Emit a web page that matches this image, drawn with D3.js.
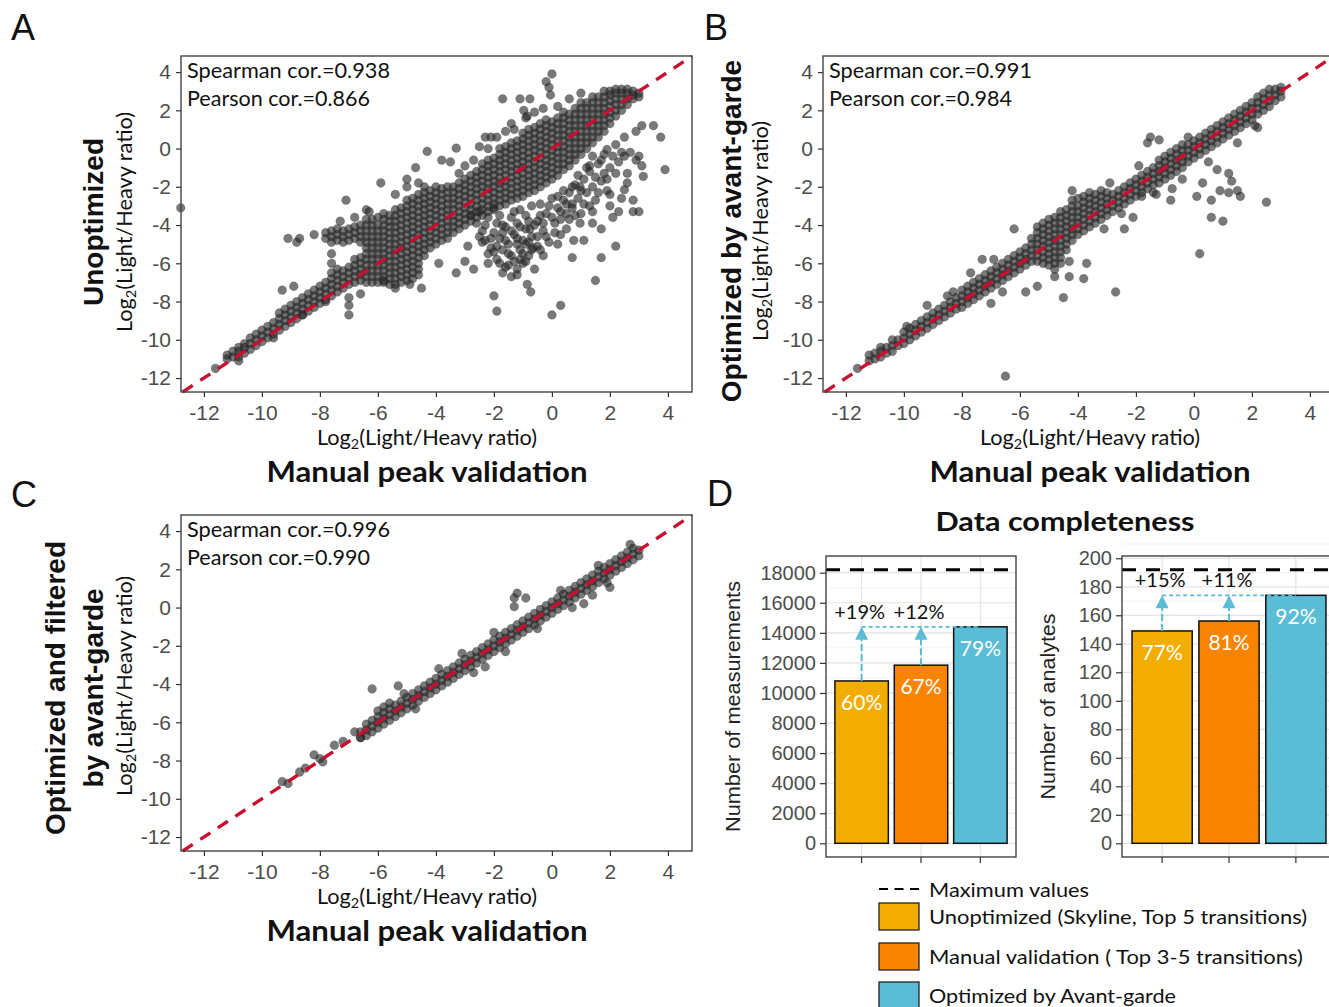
<!DOCTYPE html>
<html><head><meta charset="utf-8">
<script src="https://cdn.jsdelivr.net/npm/d3@7"></script>
<style>body{margin:0;background:#fff}svg{display:block}</style>
</head><body>
<svg id="c" width="1329" height="1007"></svg>
<script>
// ---------------- DATA ----------------
const xTicks = [-12,-10,-8,-6,-4,-2,0,2,4];
const yTicks = [-12,-10,-8,-6,-4,-2,0,2,4];
const corrA = ["Spearman cor.=0.938","Pearson cor.=0.866"];
const corrB = ["Spearman cor.=0.991","Pearson cor.=0.984"];
const corrC = ["Spearman cor.=0.996","Pearson cor.=0.990"];

// dense band of panel A: [x, [y values]]
const bandA = [
[-11.2,[-11.0,-10.8]],[-11.0,[-10.9,-10.6]],[-10.8,[-10.9,-10.6,-10.4]],[-10.6,[-10.7,-10.4,-10.2]],
[-10.4,[-10.5,-10.2,-9.9]],[-10.2,[-10.3,-10.0,-9.7]],[-10.0,[-10.1,-9.8,-9.5]],[-9.8,[-9.9,-9.6,-9.3]],
[-9.6,[-9.7,-9.4,-9.1]],[-9.4,[-9.5,-9.2,-8.9,-8.6]],[-9.2,[-9.3,-9.0,-8.7,-8.4]],[-9.0,[-9.1,-8.8,-8.5,-8.2]],
[-8.8,[-8.9,-8.6,-8.3,-8.0]],[-8.6,[-8.7,-8.4,-8.1,-7.8]],[-8.4,[-8.5,-8.2,-7.9,-7.6]],[-8.2,[-8.3,-8.0,-7.7,-7.4]],
[-8.0,[-8.1,-7.8,-7.5,-7.2]],[-7.8,[-7.9,-7.6,-7.3,-7.0,-4.7,-4.4]],
[-7.6,[-7.7,-7.4,-7.1,-6.8,-6.5,-6.0,-5.5,-4.9,-4.6,-4.3]],
[-7.4,[-7.5,-7.2,-6.9,-6.6,-6.3,-4.8,-4.5,-4.2]],
[-7.2,[-7.3,-7.0,-6.7,-6.4,-4.9,-4.6,-4.3]],
[-7.0,[-7.1,-6.8,-6.5,-6.2,-4.8,-4.5,-4.2]],
[-6.8,[-7.0,-6.7,-6.4,-6.1,-5.8,-4.7,-4.4,-4.1]],
[-6.6,[-6.9,-6.6,-6.3,-6.0,-5.7,-4.9,-4.6,-4.3,-4.0]],
[-6.4,[-7.0,-6.7,-6.4,-6.1,-5.8,-5.5,-5.2,-4.9,-4.6,-4.3,-4.0,-3.7]],
[-6.2,[-7.0,-6.7,-6.4,-6.1,-5.8,-5.5,-5.2,-4.9,-4.6,-4.3,-4.0,-3.7]],
[-6.0,[-7.0,-6.7,-6.4,-6.1,-5.8,-5.5,-5.2,-4.9,-4.6,-4.3,-4.0,-3.6]],
[-5.8,[-7.0,-6.7,-6.4,-6.1,-5.8,-5.5,-5.2,-4.9,-4.6,-4.3,-4.0,-3.7,-3.4]],
[-5.6,[-7.1,-6.8,-6.5,-6.2,-5.9,-5.6,-5.3,-5.0,-4.7,-4.4,-4.1,-3.8,-3.5]],
[-5.4,[-7.1,-6.8,-6.5,-6.2,-5.9,-5.6,-5.3,-5.0,-4.7,-4.4,-4.1,-3.8,-3.5,-3.2]],
[-5.2,[-7.0,-6.7,-6.4,-6.1,-5.8,-5.5,-5.2,-4.9,-4.6,-4.3,-4.0,-3.7,-3.4,-3.1]],
[-5.0,[-6.9,-6.6,-6.3,-6.0,-5.7,-5.4,-5.1,-4.8,-4.5,-4.2,-3.9,-3.6,-3.3,-3.0,-2.7]],
[-4.8,[-6.8,-6.5,-6.2,-5.9,-5.6,-5.3,-5.0,-4.7,-4.4,-4.1,-3.8,-3.5,-3.2,-2.9,-2.6]],
[-4.6,[-6.6,-6.3,-6.0,-5.7,-5.4,-5.1,-4.8,-4.5,-4.2,-3.9,-3.6,-3.3,-3.0,-2.7,-2.4]],
[-4.4,[-5.6,-5.3,-5.0,-4.7,-4.4,-4.1,-3.8,-3.5,-3.2,-2.9,-2.6,-2.3]],
[-4.2,[-5.2,-4.9,-4.6,-4.3,-4.0,-3.7,-3.4,-3.1,-2.8,-2.5,-2.2]],
[-4.0,[-5.0,-4.7,-4.4,-4.1,-3.8,-3.5,-3.2,-2.9,-2.6,-2.3,-2.0]],
[-3.8,[-4.8,-4.5,-4.2,-3.9,-3.6,-3.3,-3.0,-2.7,-2.4,-2.1]],
[-3.6,[-4.7,-4.4,-4.1,-3.8,-3.5,-3.2,-2.9,-2.6,-2.3,-2.0]],
[-3.4,[-4.4,-4.1,-3.8,-3.5,-3.2,-2.9,-2.6,-2.3,-2.0]],
[-3.2,[-4.2,-3.9,-3.6,-3.3,-3.0,-2.7,-2.4,-2.1,-1.8]],
[-3.0,[-4.0,-3.7,-3.4,-3.1,-2.8,-2.5,-2.2,-1.9,-1.6]],
[-2.8,[-3.8,-3.5,-3.2,-2.9,-2.6,-2.3,-2.0,-1.7,-1.4]],
[-2.6,[-3.6,-3.3,-3.0,-2.7,-2.4,-2.1,-1.8,-1.5,-1.2]],
[-2.4,[-3.5,-3.2,-2.9,-2.6,-2.3,-2.0,-1.7,-1.4,-1.1,-0.8]],
[-2.2,[-3.3,-3.0,-2.7,-2.4,-2.1,-1.8,-1.5,-1.2,-0.9,-0.6]],
[-2.0,[-3.2,-2.9,-2.6,-2.3,-2.0,-1.7,-1.4,-1.1,-0.8,-0.5]],
[-1.8,[-3.0,-2.7,-2.4,-2.1,-1.8,-1.5,-1.2,-0.9,-0.6,-0.3,0.0]],
[-1.6,[-2.9,-2.6,-2.3,-2.0,-1.7,-1.4,-1.1,-0.8,-0.5,-0.2,0.1]],
[-1.4,[-2.7,-2.4,-2.1,-1.8,-1.5,-1.2,-0.9,-0.6,-0.3,0.0,0.3]],
[-1.2,[-2.6,-2.3,-2.0,-1.7,-1.4,-1.1,-0.8,-0.5,-0.2,0.1,0.4]],
[-1.0,[-2.5,-2.2,-1.9,-1.6,-1.3,-1.0,-0.7,-0.4,-0.1,0.2,0.5,0.8]],
[-0.8,[-2.3,-2.0,-1.7,-1.4,-1.1,-0.8,-0.5,-0.2,0.1,0.4,0.7,1.0]],
[-0.6,[-2.2,-1.9,-1.6,-1.3,-1.0,-0.7,-0.4,-0.1,0.2,0.5,0.8,1.1]],
[-0.4,[-2.0,-1.7,-1.4,-1.1,-0.8,-0.5,-0.2,0.1,0.4,0.7,1.0,1.3]],
[-0.2,[-1.8,-1.5,-1.2,-0.9,-0.6,-0.3,0.0,0.3,0.6,0.9,1.2,1.5]],
[0.0,[-1.6,-1.3,-1.0,-0.7,-0.4,-0.1,0.2,0.5,0.8,1.1,1.4]],
[0.2,[-1.4,-1.1,-0.8,-0.5,-0.2,0.1,0.4,0.7,1.0,1.3,1.6]],
[0.4,[-1.1,-0.8,-0.5,-0.2,0.1,0.4,0.7,1.0,1.3,1.6,1.9]],
[0.6,[-0.9,-0.6,-0.3,0.0,0.3,0.6,0.9,1.2,1.5,1.8]],
[0.8,[-0.6,-0.3,0.0,0.3,0.6,0.9,1.2,1.5,1.8,2.1]],
[1.0,[-0.3,0.0,0.3,0.6,0.9,1.2,1.5,1.8,2.1,2.4]],
[1.2,[0.0,0.3,0.6,0.9,1.2,1.5,1.8,2.1,2.4]],
[1.4,[0.3,0.6,0.9,1.2,1.5,1.8,2.1,2.4,2.7]],
[1.6,[0.6,0.9,1.2,1.5,1.8,2.1,2.4,2.7]],
[1.8,[0.9,1.2,1.5,1.8,2.1,2.4,2.7,3.0]],
[2.0,[1.3,1.6,1.9,2.2,2.5,2.8,3.0]],
[2.2,[1.7,2.0,2.3,2.6,2.9,3.1]],
[2.4,[2.0,2.3,2.6,2.9,3.1]],
[2.6,[2.3,2.6,2.9,3.1]],
[2.8,[2.6,2.8,3.0]],
[3.0,[2.7,2.9]]
];
// scattered points of panel A: [x, y]
const scatterA = [
[-12.8,-3.1],[0.0,3.9],[-0.2,3.5],[-0.1,3.2],[-0.05,2.8],[-1.7,2.6],[-1.1,2.6],[-0.76,2.6],[-0.97,2.0],[-0.85,1.7],
[-2.3,0.6],[-2.1,0.6],[-1.3,1.0],[-4.3,-0.15],[-3.3,0.02],[-3.8,-0.6],[-3.5,-0.7],[-5.9,-1.8],[-4.7,-1.0],[-5.0,-1.6],
[-7.1,-2.7],[-6.4,-3.2],[-9.1,-4.7],[-8.7,-4.7],[-8.8,-4.9],[-9.3,-7.4],[-8.9,-7.2],[-7.0,-8.2],[-7.0,-8.7],
[3.1,1.2],[3.5,1.2],[3.75,0.6],[3.9,-1.1],[3.15,-1.45],[2.9,-0.6],[2.6,-1.3],[2.5,-2.15],[2.8,-3.3],[3.0,-3.3],
[2.2,-5.1],[1.7,-5.7],[1.5,-6.9],[0.7,-5.7],[0.3,-8.2],[0.0,-8.7],[-1.9,-8.5],[-2.0,-7.7],[-3.3,-6.5],[-3.9,-6.0],
[-2.7,-6.3],[-0.73,-7.5],[-0.85,-7.1],[2.5,-0.4],[3.1,-0.9],[2.1,-0.4],[2.0,-3.0],[2.3,-3.3],[1.4,-3.3],[1.4,-3.9],
[1.7,-4.2],[0.97,-3.9],[0.6,-3.7],[0.3,-3.7],[0.5,-4.2],[-0.76,-4.2],[-0.65,-5.2],[-1.2,-5.0],[-0.9,-5.9],[-1.5,-6.1],
[-1.8,-6.0],[-2.4,-4.9],[-2.0,-5.4],[-1.4,-6.7],[-1.2,-6.3],[0.75,-4.8],[1.1,-4.8],[0.2,-2.5],[1.9,-0.05],[1.3,-0.9],
[0.97,-2.0],[0.7,-2.9],[1.8,-1.3],[1.4,-0.4],
[-2.6,-3.9],[-2.4,-4.3],[-2.3,-4.8],[-2.2,-3.6],[-2.1,-5.2],[-2.0,-4.4],[-1.9,-5.8],[-1.9,-3.9],[-1.8,-4.7],[-1.7,-5.3],
[-1.6,-4.1],[-1.6,-6.2],[-1.5,-5.0],[-1.4,-3.6],[-1.4,-5.6],[-1.3,-4.5],[-1.2,-6.6],[-1.2,-3.9],[-1.1,-5.3],[-1.0,-4.8],
[-1.0,-6.0],[-0.9,-3.5],[-0.9,-4.2],[-0.8,-5.6],[-0.7,-3.0],[-0.7,-4.6],[-0.6,-6.3],[-0.5,-3.8],[-0.5,-5.1],[-0.4,-2.9],
[-0.3,-4.3],[-0.3,-5.6],[-0.2,-3.4],[-0.1,-4.9],[0.0,-2.6],[0.1,-3.9],[0.2,-3.1],[0.3,-4.5],[0.4,-2.7],[0.5,-3.4],
[0.6,-2.3],[0.7,-3.1],[0.8,-1.9],[0.9,-2.6],[1.0,-3.4],[1.1,-1.6],[1.2,-2.3],[1.3,-1.2],[1.4,-2.0],[1.5,-2.7],
[1.6,-0.8],[1.7,-1.7],[1.8,-0.3],[1.9,-2.2],[2.0,-1.0],[2.1,-3.6],[2.2,0.2],[2.3,-0.7],[2.4,-2.6],[2.5,0.6],
[2.6,-1.8],[2.7,-0.2],[2.8,-2.7],[2.9,0.9],[3.0,-0.4],[-2.5,-4.6],[-2.2,-5.5],[-1.7,-4.4],[-1.3,-5.9],[-0.8,-4.9],
[-1.1,-3.2],[-0.4,-3.5],[-2.8,-3.5],[-3.0,-5.9],[-2.9,-5.1],
[-2.5,-3.3],[-2.3,-4.0],[-2.1,-4.7],[-2.0,-3.1],[-1.8,-3.5],[-1.7,-4.0],[-1.6,-4.8],[-1.5,-5.5],[-1.4,-4.3],[-1.3,-3.3],
[-1.2,-4.7],[-1.1,-4.1],[-1.0,-5.5],[-0.9,-5.0],[-0.8,-3.8],[-0.7,-5.3],[-0.6,-4.0],[-0.5,-4.6],[-0.4,-5.3],[-0.3,-3.9],
[-0.2,-4.6],[-0.1,-3.0],[0.0,-3.6],[0.1,-4.4],[0.2,-5.0],[0.3,-3.3],[0.4,-2.2],[0.5,-2.9],[0.7,-2.0],[0.8,-3.5],
[0.9,-1.4],[1.0,-2.2],[1.1,-2.9],[1.2,-1.0],[1.3,-3.0],[1.5,-1.5],[1.6,-2.3],[1.7,-0.6],[1.9,-1.6],[2.0,-2.4],
[2.2,-1.3],[2.4,-0.2],[-1.9,-5.1],[-2.2,-6.0],[-1.7,-6.5],[-1.1,-5.8],
[-5.4,-2.4],[-5.0,-2.0],[-4.6,-1.8],[-4.4,-2.0],[-3.2,-1.3],[-3.0,-0.9],[-2.7,-0.6],[-2.5,0.1],[-2.2,0.0],[-1.9,0.6],
[-1.6,0.9],[-1.4,1.3],[-0.9,1.6],[-0.6,1.9],[-0.3,2.1],[0.2,2.2],[0.6,2.6],[1.0,2.9],[-6.8,-3.6],[-6.3,-3.3],
[-7.3,-3.8],[-8.2,-4.5],[-5.8,-6.9],[-5.4,-7.3],[-4.9,-7.1],[-4.5,-7.3],[-6.6,-7.6],[-7.0,-7.8],[-8.6,-8.7],[-7.8,-8.0],
[-9.6,-9.9],[-10.8,-11.1],[-11.6,-11.5]
];

// dense band of panel B
const bandB = [
[-11.2,[-11.1,-10.8]],[-11.0,[-11.0,-10.7]],[-10.8,[-10.9,-10.6,-10.4]],[-10.6,[-10.7,-10.4]],
[-10.4,[-10.6,-10.3,-10.0]],[-10.2,[-10.3,-10.0]],[-10.0,[-10.2,-9.9,-9.6]],[-9.8,[-10.0,-9.7,-9.4]],
[-9.6,[-9.8,-9.5,-9.2]],[-9.4,[-9.6,-9.3,-9.0]],[-9.2,[-9.4,-9.1,-8.8]],[-9.0,[-9.2,-8.9,-8.6]],
[-8.8,[-9.0,-8.7,-8.4]],[-8.6,[-8.8,-8.5,-8.2]],[-8.4,[-8.6,-8.3,-8.0]],[-8.2,[-8.4,-8.1,-7.8]],
[-8.0,[-8.3,-8.0,-7.7,-7.4]],[-7.8,[-8.1,-7.8,-7.5,-7.2]],[-7.6,[-7.9,-7.6,-7.3,-7.0]],[-7.4,[-7.7,-7.4,-7.1,-6.8]],
[-7.2,[-7.5,-7.2,-6.9,-6.6]],[-7.0,[-7.3,-7.0,-6.7,-6.4]],[-6.8,[-7.1,-6.8,-6.5,-6.2]],[-6.6,[-6.9,-6.6,-6.3,-6.0]],
[-6.4,[-6.7,-6.4,-6.1,-5.8]],[-6.2,[-6.5,-6.2,-5.9,-5.6]],[-6.0,[-6.3,-6.0,-5.7,-5.4]],[-5.8,[-6.1,-5.8,-5.5,-5.2]],
[-5.6,[-5.9,-5.6,-5.3,-5.0,-4.7]],
[-5.4,[-5.9,-5.6,-5.3,-5.0,-4.7,-4.4,-4.1]],
[-5.2,[-6.0,-5.7,-5.4,-5.1,-4.8,-4.5,-4.2,-3.9]],
[-5.0,[-6.1,-5.8,-5.5,-5.2,-4.9,-4.6,-4.3,-4.0,-3.7]],
[-4.8,[-6.3,-6.0,-5.7,-5.4,-5.1,-4.8,-4.5,-4.2,-3.9,-3.6]],
[-4.6,[-6.0,-5.7,-5.4,-5.1,-4.8,-4.5,-4.2,-3.9,-3.6,-3.3]],
[-4.4,[-5.3,-5.0,-4.7,-4.4,-4.1,-3.8,-3.5,-3.2]],
[-4.2,[-4.8,-4.5,-4.2,-3.9,-3.6,-3.3,-3.0,-2.7]],
[-4.0,[-4.5,-4.2,-3.9,-3.6,-3.3,-3.0,-2.6]],
[-3.8,[-4.3,-4.0,-3.7,-3.4,-3.1,-2.8,-2.5]],
[-3.6,[-4.1,-3.8,-3.5,-3.2,-2.9,-2.6,-2.3]],
[-3.4,[-3.9,-3.6,-3.3,-3.0,-2.7,-2.4]],
[-3.2,[-3.7,-3.4,-3.1,-2.8,-2.5,-2.2]],
[-3.0,[-3.5,-3.2,-2.9,-2.6,-2.3]],
[-2.8,[-3.3,-3.0,-2.7,-2.4]],[-2.6,[-3.1,-2.8,-2.5,-2.2]],[-2.4,[-2.9,-2.6,-2.3,-2.0]],[-2.2,[-2.7,-2.4,-2.1,-1.8]],
[-2.0,[-2.5,-2.2,-1.9,-1.6]],[-1.8,[-2.3,-2.0,-1.7,-1.4]],[-1.6,[-2.1,-1.8,-1.5,-1.2]],[-1.4,[-1.9,-1.6,-1.3,-1.0]],
[-1.2,[-1.8,-1.5,-1.2,-0.9,-0.6]],[-1.0,[-1.6,-1.3,-1.0,-0.7,-0.4]],[-0.8,[-1.4,-1.1,-0.8,-0.5,-0.2]],
[-0.6,[-1.2,-0.9,-0.6,-0.3,0.0]],[-0.4,[-1.0,-0.7,-0.4,-0.1,0.2]],[-0.2,[-0.7,-0.4,-0.1,0.2]],
[0.0,[-0.5,-0.2,0.1,0.4]],[0.2,[-0.3,0.0,0.3,0.6]],[0.4,[-0.1,0.2,0.5,0.8]],[0.6,[0.1,0.4,0.7,1.0]],
[0.8,[0.3,0.6,0.9,1.2]],[1.0,[0.5,0.8,1.1,1.4]],[1.2,[0.7,1.0,1.3,1.6]],[1.4,[0.9,1.2,1.5,1.8]],
[1.6,[1.1,1.4,1.7,2.0]],[1.8,[1.3,1.6,1.9,2.2]],[2.0,[1.5,1.8,2.1,2.4]],[2.2,[1.8,2.1,2.4,2.7]],
[2.4,[2.0,2.3,2.6,2.9]],[2.6,[2.2,2.5,2.8,3.1]],[2.8,[2.5,2.8,3.1]],[3.0,[2.7,3.0,3.2]]
];
const scatterB = [
[-6.5,-11.9],[-6.2,-4.2],[-7.3,-5.8],[-8.3,-7.5],[-9.2,-8.2],[-7.0,-8.1],[-6.6,-7.5],[-5.8,-7.5],[-5.4,-7.2],
[-4.5,-7.8],[-4.8,-6.7],[-4.3,-6.7],[-3.8,-6.8],[-4.3,-5.9],[-3.7,-6.0],[-2.7,-7.5],[-2.4,-4.2],[-2.1,-3.6],
[-4.2,-2.2],[0.2,-5.5],[0.6,-3.6],[1.0,-3.8],[0.1,-2.5],[0.6,-2.7],[0.9,-2.2],[1.2,-2.3],[1.6,-2.5],[1.5,-2.2],
[0.3,-1.8],[0.8,-1.1],[1.2,-1.3],[1.3,-1.7],[2.5,-2.8],[-0.8,-2.7],[-0.75,-2.1],[-1.5,0.6],[-1.2,0.45],[-1.6,0.3],
[2.1,1.2],[2.2,1.1],[1.5,0.3],[-1.4,-2.3],[-1.8,-2.5],[-11.6,-11.5],[-9.9,-9.3],[-8.5,-7.7],[-7.7,-6.5],[-6.9,-5.8],
[-3.1,-4.2],[-2.5,-3.4],[-1.3,-2.4],[-0.4,-1.6],[0.5,-0.7],[-0.2,0.6],[-2.9,-1.8],[-1.9,-0.9]
];

// dense band of panel C
const bandC = [
[-6.6,[-6.8,-6.5]],[-6.4,[-6.7,-6.4,-6.1]],[-6.2,[-6.5,-6.2,-5.9]],[-6.0,[-6.3,-6.0,-5.7,-5.4]],
[-5.8,[-6.1,-5.8,-5.5,-5.2]],[-5.6,[-5.9,-5.6,-5.3,-5.0]],[-5.4,[-5.7,-5.4,-5.1]],[-5.2,[-5.5,-5.2,-4.9]],
[-5.0,[-5.3,-5.0,-4.7]],[-4.8,[-5.1,-4.8,-4.5]],[-4.6,[-4.9,-4.6,-4.3]],[-4.4,[-4.7,-4.4,-4.1]],
[-4.2,[-4.5,-4.2,-3.9]],[-4.0,[-4.3,-4.0,-3.7]],[-3.8,[-4.1,-3.8,-3.5]],[-3.6,[-3.9,-3.6,-3.3]],
[-3.4,[-3.7,-3.4,-3.1]],[-3.2,[-3.5,-3.2,-2.9]],[-3.0,[-3.3,-3.0,-2.7]],[-2.8,[-3.1,-2.8,-2.5]],
[-2.6,[-2.9,-2.6,-2.3]],[-2.4,[-2.7,-2.4,-2.1]],[-2.2,[-2.5,-2.2,-1.9]],[-2.0,[-2.3,-2.0,-1.7]],
[-1.8,[-2.1,-1.8,-1.5]],[-1.6,[-1.9,-1.6,-1.3]],[-1.4,[-1.7,-1.4,-1.1]],[-1.2,[-1.5,-1.2,-0.9]],
[-1.0,[-1.3,-1.0,-0.7]],[-0.8,[-1.1,-0.8,-0.5]],[-0.6,[-0.9,-0.6,-0.3]],[-0.4,[-0.7,-0.4,-0.1]],
[-0.2,[-0.5,-0.2,0.1]],[0.0,[-0.3,0.0,0.3]],[0.2,[-0.1,0.2,0.5]],[0.4,[0.1,0.4,0.7]],
[0.6,[0.3,0.6,0.9]],[0.8,[0.5,0.8,1.1]],[1.0,[0.7,1.0,1.3]],[1.2,[0.9,1.2,1.5]],
[1.4,[1.1,1.4,1.7]],[1.6,[1.3,1.6,1.9]],[1.8,[1.5,1.8,2.1]],[2.0,[1.7,2.0,2.3]],
[2.2,[1.9,2.2,2.5]],[2.4,[2.1,2.4,2.7]],[2.6,[2.3,2.6,2.9]],[2.8,[2.5,2.8,3.1]],[3.0,[2.7,3.0]]
];
const scatterC = [
[-6.2,-4.25],[-9.3,-9.1],[-9.1,-9.2],[-8.7,-8.6],[-8.5,-8.4],[-8.2,-7.7],[-7.9,-8.07],[-8.0,-7.9],[-7.5,-7.2],
[-7.2,-7.0],[-6.6,-6.8],[-6.8,-6.5],[-1.3,0.5],[-1.2,0.75],[-0.9,0.5],[-1.3,0.05],[-2.3,-3.1],[1.1,0.2],[1.4,0.65],
[2.0,1.06],[-5.3,-4.1],[-5.1,-4.5],[-3.9,-3.2],[-3.1,-2.4],[-2.0,-1.3],[-0.5,-1.1],[0.7,0.0],[1.9,1.3],[2.7,3.3],
[-4.7,-5.3],[-2.7,-3.4],[-1.6,-2.3],[0.3,0.9],[1.6,2.2]
];

// Panel D
const categories = ["Unoptimized (Skyline, Top 5 transitions)","Manual validation ( Top 3-5 transitions)","Optimized by Avant-garde"];
const barColors = ["#F2AD00","#F98400","#5BBCD6"];
const measurements = [10800,11850,14400];
const maxMeasurements = 18200;
const measurementPct = ["60%","67%","79%"];
const measurementGain = ["+19%","+12%"];
const measurementTicks = [0,2000,4000,6000,8000,10000,12000,14000,16000,18000];
const analytes = [149,156,174];
const maxAnalytes = 192;
const analytePct = ["77%","81%","92%"];
const analyteGain = ["+15%","+11%"];
const analyteTicks = [0,20,40,60,80,100,120,140,160,180,200];

// ---------------- DRAWING ----------------
const CAL = "Lato, 'Open Sans', sans-serif";
const ARI = "'Liberation Sans', Arial, sans-serif";
const svg = d3.select("#c");
svg.append("rect").attr("width",1329).attr("height",1007).attr("fill","#fff");

function txt(x,y,s,o){
  o=o||{};
  const t=svg.append("text").attr("x",x).attr("y",y).text(s)
    .attr("font-family",o.f||CAL).attr("font-size",o.s||20).attr("fill",o.c||"#111")
    .attr("font-weight",o.w||"normal").attr("text-anchor",o.a||"start");
  if(o.len){t.attr("textLength",o.len).attr("lengthAdjust","spacingAndGlyphs");}
  if(o.rot){t.attr("transform",`rotate(-90,${x},${y})`);}
  return t;
}
function logLabel(x,y,rot){
  const t=svg.append("text").attr("x",x).attr("y",y).attr("font-family",CAL).attr("font-size",21)
    .attr("fill","#111").attr("text-anchor","middle").attr("textLength",220).attr("lengthAdjust","spacingAndGlyphs");
  t.append("tspan").text("Log");
  t.append("tspan").text("2").attr("font-size",14).attr("baseline-shift","-30%");
  t.append("tspan").text("(Light/Heavy ratio)");
  if(rot) t.attr("transform",`rotate(-90,${x},${y})`);
}

function scatter(p){
  const W=511,H=336;
  const x=d3.scaleLinear().domain([-12.79,4.83]).range([p.left,p.left+W]);
  const y=d3.scaleLinear().domain([-12.73,4.84]).range([p.top+H,p.top]);
  const g=svg.append("g");
  const pts=[];
  p.band.forEach(c=>c[1].forEach(v=>pts.push([c[0],v])));
  p.extra.forEach(d=>pts.push(d));
  g.append("g").selectAll("circle").data(pts).join("circle")
    .attr("cx",d=>x(d[0])).attr("cy",d=>y(d[1])).attr("r",4.4)
    .attr("fill","#262626").attr("fill-opacity",0.62)
    .attr("stroke","#222").attr("stroke-opacity",0.3).attr("stroke-width",0.6);
  const lo=-12.73, hi=4.83;
  g.append("line").attr("x1",x(lo)).attr("y1",y(lo)).attr("x2",x(hi)).attr("y2",y(hi))
    .attr("stroke","#c8102e").attr("stroke-width",3.4).attr("stroke-dasharray","12,9");
  g.append("rect").attr("x",p.left).attr("y",p.top).attr("width",W).attr("height",H)
    .attr("fill","none").attr("stroke","#444").attr("stroke-width",1.4);
  const ax=g.append("g").attr("transform",`translate(0,${p.top+H})`)
    .call(d3.axisBottom(x).tickValues(xTicks).tickSize(5).tickPadding(8).tickFormat(d=>String(d)));
  const ay=g.append("g").attr("transform",`translate(${p.left},0)`)
    .call(d3.axisLeft(y).tickValues(yTicks).tickSize(5).tickPadding(5).tickFormat(d=>String(d)));
  [ax,ay].forEach(a=>{
    a.select(".domain").remove();
    a.selectAll("line").attr("stroke","#333").attr("stroke-width",1.2);
    a.selectAll("text").attr("font-family",ARI).attr("font-size",21).attr("fill","#4d4d4d");
  });
  p.corr.forEach((s,i)=>txt(p.left+6,p.top+22+i*28,s,{s:21,len:i==0?203:183}));
}

scatter({left:181,top:56,band:bandA,extra:scatterA,corr:corrA});
scatter({left:823,top:56,band:bandB,extra:scatterB,corr:corrB});
scatter({left:181,top:515,band:bandC,extra:scatterC,corr:corrC});

// titles for scatter panels
logLabel(427,445,false);
logLabel(1090,445,false);
logLabel(427,904,false);
logLabel(132,222,true);
logLabel(768,231,true);
logLabel(132,686,true);
txt(427,482,"Manual peak validation",{s:29,w:"bold",a:"middle",len:321});
txt(1090,482,"Manual peak validation",{s:29,w:"bold",a:"middle",len:321});
txt(427,941,"Manual peak validation",{s:29,w:"bold",a:"middle",len:321});
txt(103,222,"Unoptimized",{f:ARI,s:28,w:"bold",a:"middle",rot:true});
txt(741,231,"Optimized by avant-garde",{f:ARI,s:28,w:"bold",a:"middle",rot:true});
txt(65,688,"Optimized and filtered",{f:ARI,s:28,w:"bold",a:"middle",rot:true});
txt(103,688,"by avant-garde",{f:ARI,s:28,w:"bold",a:"middle",rot:true});

// panel letters
txt(11,40,"A",{f:ARI,s:36});
txt(704,40,"B",{f:ARI,s:36});
txt(11,507,"C",{f:ARI,s:36});
txt(707,506,"D",{f:ARI,s:36});

// ---------------- BAR PANELS ----------------
function bars(p){
  const x=d3.scaleBand().domain(categories).range([p.left,p.right]).paddingInner(0.1).paddingOuter(0.15);
  const e=p.max*0.05;
  const y=d3.scaleLinear().domain([-e,p.max+e]).range([p.bottom,p.top]);
  const g=svg.append("g");
  const step=p.ticks[1]-p.ticks[0];
  p.ticks.forEach(t=>{
    g.append("line").attr("x1",p.left).attr("x2",p.right).attr("y1",y(t+step/2)).attr("y2",y(t+step/2))
      .attr("stroke","#f0f0f0").attr("stroke-width",0.8);
  });
  p.ticks.forEach(t=>{
    g.append("line").attr("x1",p.left).attr("x2",p.right).attr("y1",y(t)).attr("y2",y(t))
      .attr("stroke","#e4e4e4").attr("stroke-width",1.2);
  });
  categories.forEach(c=>{
    const cx=x(c)+x.bandwidth()/2;
    g.append("line").attr("x1",cx).attr("x2",cx).attr("y1",p.top).attr("y2",p.bottom)
      .attr("stroke","#e4e4e4").attr("stroke-width",1.2);
  });
  g.selectAll("rect.bar").data(p.values).join("rect").attr("class","bar")
    .attr("x",(d,i)=>x(categories[i])).attr("width",x.bandwidth())
    .attr("y",d=>y(d)).attr("height",d=>y(0)-y(d))
    .attr("fill",(d,i)=>barColors[i]).attr("stroke","#111").attr("stroke-width",1.5);
  g.append("line").attr("x1",p.left).attr("x2",p.right).attr("y1",y(p.max)).attr("y2",y(p.max))
    .attr("stroke","#000").attr("stroke-width",3).attr("stroke-dasharray","14,10");
  const top=y(p.values[2]);
  const cx=i=>x(categories[i])+x.bandwidth()/2;
  g.append("line").attr("x1",cx(0)).attr("x2",cx(2)).attr("y1",top).attr("y2",top)
    .attr("stroke","#5BBCD6").attr("stroke-width",1.8).attr("stroke-dasharray","4,3");
  [0,1].forEach(i=>{
    g.append("line").attr("x1",cx(i)).attr("x2",cx(i)).attr("y1",y(p.values[i])).attr("y2",top+12)
      .attr("stroke","#5BBCD6").attr("stroke-width",2).attr("stroke-dasharray","7,3");
    g.append("path").attr("d",`M${cx(i)},${top} L${cx(i)-6.5},${top+13} L${cx(i)+6.5},${top+13} Z`)
      .attr("fill","#5BBCD6");
    txt(cx(i)-2,top-8,p.gain[i],{s:20,a:"middle",c:"#111"});
  });
  p.pct.forEach((s,i)=>txt(cx(i),y(p.values[i])+29,s,{s:21,a:"middle",c:"#fff"}));
  g.append("rect").attr("x",p.left).attr("y",p.top).attr("width",p.right-p.left).attr("height",p.bottom-p.top)
    .attr("fill","none").attr("stroke","#444").attr("stroke-width",1.4);
  const ay=g.append("g").attr("transform",`translate(${p.left},0)`)
    .call(d3.axisLeft(y).tickValues(p.ticks).tickSize(6).tickPadding(4).tickFormat(d=>String(d)));
  const ax=g.append("g").attr("transform",`translate(0,${p.bottom})`)
    .call(d3.axisBottom(x).tickSize(6).tickFormat(()=>""));
  [ax,ay].forEach(a=>{
    a.select(".domain").remove();
    a.selectAll("line").attr("stroke","#333").attr("stroke-width",1.2);
    a.selectAll("text").attr("font-family",ARI).attr("font-size",20).attr("fill","#4d4d4d");
  });
  txt(p.titleX,(p.top+p.bottom)/2,p.title,{f:ARI,s:21,a:"middle",rot:true,len:p.titleLen,c:"#222"});
}
bars({left:826,right:1016,top:556,bottom:857,values:measurements,max:maxMeasurements,ticks:measurementTicks,
  pct:measurementPct,gain:measurementGain,title:"Number of measurements",titleX:740,titleLen:251});
bars({left:1122,right:1336,top:556,bottom:857,values:analytes,max:maxAnalytes,ticks:analyteTicks,
  pct:analytePct,gain:analyteGain,title:"Number of analytes",titleX:1055,titleLen:186});

txt(1065,531,"Data completeness",{s:27,w:"bold",a:"middle",len:259});

// legend
svg.append("line").attr("x1",879).attr("x2",919).attr("y1",889).attr("y2",889)
  .attr("stroke","#000").attr("stroke-width",2.2).attr("stroke-dasharray","9,6.5");
txt(929,897,"Maximum values",{s:20,len:160});
const legLen=[378,374,247];
const legY=[903,943,982];
categories.forEach((c,i)=>{
  svg.append("rect").attr("x",879).attr("y",legY[i]).attr("width",40).attr("height",27)
    .attr("fill",barColors[i]).attr("stroke","#222").attr("stroke-width",1.3);
  txt(929,legY[i]+21,c,{s:20,len:legLen[i]});
});
</script>
</body></html>
